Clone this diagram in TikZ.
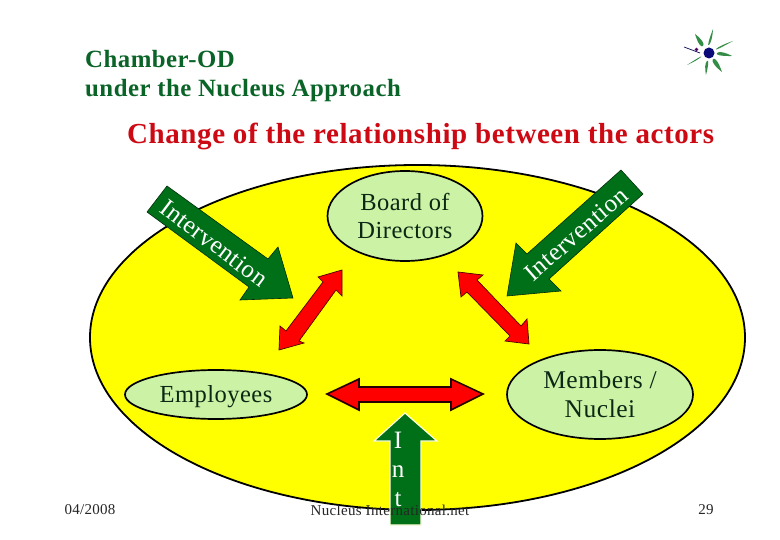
\documentclass[tikz,border=0pt]{standalone}
\usepackage{fontspec}
\usetikzlibrary{shapes.geometric}
\setmainfont{Liberation Serif}
\newfontfamily\wide[LetterSpace=2]{Liberation Serif}
\newfontfamily\widebf[LetterSpace=2]{Liberation Serif Bold}
\definecolor{leaf}{RGB}{0,112,24}
\definecolor{head}{RGB}{10,100,40}
\definecolor{pale}{RGB}{204,242,165}
\definecolor{titlered}{RGB}{205,10,20}
\definecolor{navy}{RGB}{10,10,120}
\definecolor{inkgreen}{RGB}{10,40,20}
\definecolor{pureyellow}{RGB}{255,255,0}
\definecolor{purered}{RGB}{255,0,0}
\tikzset{
  x=1pt,y=-1pt,
  oval/.style={ellipse,draw=black,line width=1.7pt,fill=pale,inner sep=0pt,text=inkgreen,
    font=\wide\fontsize{24.5}{28}\selectfont,align=center},
  ovaltext/.style={inner sep=0pt,text=inkgreen,font=\wide\fontsize{24.5}{28}\selectfont},
  redarrow/.style={draw=black!70!purered,line width=.7pt,fill=purered,line join=miter},
  greenarrow/.style={draw=black!60!leaf,line width=.6pt,fill=leaf},
  arrowtext/.style={text=white,font=\wide\fontsize{25}{29}\selectfont,inner sep=0pt},
  small/.style={text=black!85,font=\wide\fontsize{15}{17}\selectfont,inner sep=0pt},
  headtext/.style={anchor=base west,inner sep=0pt,text=head,font=\widebf\fontsize{24.8}{28}\selectfont},
  ray/.style={fill=leaf!80!white}
}
\begin{document}
\begin{tikzpicture}
\useasboundingbox (0,0) rectangle (780,540);
\fill[white] (0,0) rectangle (780,540);
% titles
\node[headtext] (t1) at (85,68) {Chamber-OD};
\node[headtext] (t2) at (85,97) {under the Nucleus Approach};
\node[headtext,text=titlered,font=\widebf\fontsize{29}{32}\selectfont] (t3) at (127,144) {Change of the relationship between the actors};
% logo
\foreach \ax/\ay/\bx/\by in {695/34/703/46, 713/29/709/45, 733/41/716/49, 732/56/717/53, 722/72/713/59, 706/75/707/61, 687/65/701/57}{
  \fill[ray] (\ax,\ay) .. controls ({\ax*.4+\bx*.6+2},{\ay*.4+\by*.6-2}) and (\bx+2,\by-2) .. (\bx,\by) .. controls (\bx-2,\by+2) and ({\ax*.4+\bx*.6-2},{\ay*.4+\by*.6+2}) .. (\ax,\ay) -- cycle;
}
\draw[navy!70!black,line width=.7pt] (684,47) -- (700,53);
\fill[navy!60!purple] (696.5,49.5) circle (1.8);
\fill[navy] (709,53) circle (5.5);
% main oval
\draw[black,line width=1.8pt,fill=pureyellow] (417.5,337.5) ellipse [x radius=327.5,y radius=172.5];
% green arrows
\draw[greenarrow] (167,186) -- (268,259) -- (278,247) -- (293,298) -- (240,300) -- (249,287) -- (147,212) -- cycle;
\draw[greenarrow] (621,170) -- (527,254) -- (516,243) -- (507,296) -- (561,291) -- (549,279) -- (643,194) -- cycle;
\node[arrowtext,rotate=-37] (lt) at (214,243) {Intervention};
\node[arrowtext,rotate=41] (rt) at (576,234) {Intervention};
% ovals
\node[oval,minimum width=155pt,minimum height=90pt] (board) at (405,216) {Board of\\Directors};
\node[oval,minimum width=182pt,minimum height=49pt] (emp) at (216,394.5) {};
\node[ovaltext] (emptext) at (216,396.5) {Employees};
\node[oval,minimum width=186pt,minimum height=89pt,font=\wide\fontsize{25.5}{29}\selectfont] (mem) at (600,394.5) {Members /\\Nuclei};
% red arrows
\draw[redarrow] (342,270) -- (318,277) -- (323,282) -- (286,331) -- (280,326) -- (279,350) -- (304,343) -- (299,341) -- (336,290) -- (342,296) -- cycle;
\draw[redarrow] (458,272) -- (483,275) -- (477,280) -- (521,326) -- (527,319) -- (529,344) -- (505,341) -- (510,336) -- (467,292) -- (461,297) -- cycle;
\draw[redarrow,draw=black!85!purered,line width=1.6pt] (327,394) -- (359,379) -- (359,387) -- (451,387) -- (451,379) -- (483,394) -- (451,410) -- (451,402) -- (359,402) -- (359,410) -- cycle;
% up arrow
\draw[fill=leaf,draw=white!85!pureyellow,line width=1.2pt] (405,413) -- (437,441) -- (421,441) -- (421,525) -- (390,525) -- (390,441) -- (374,441) -- cycle;
\node[arrowtext,align=center,font=\wide\fontsize{25}{29}\selectfont] (it) at (398,469.5) {I\\n\\t};
% footer
\node[small] (date) at (90,510) {04/2008};
\node[small] (foot) at (390,510) {Nucleus International.net};
\node[small] (page) at (706,510) {29};
\end{tikzpicture}
\end{document}
